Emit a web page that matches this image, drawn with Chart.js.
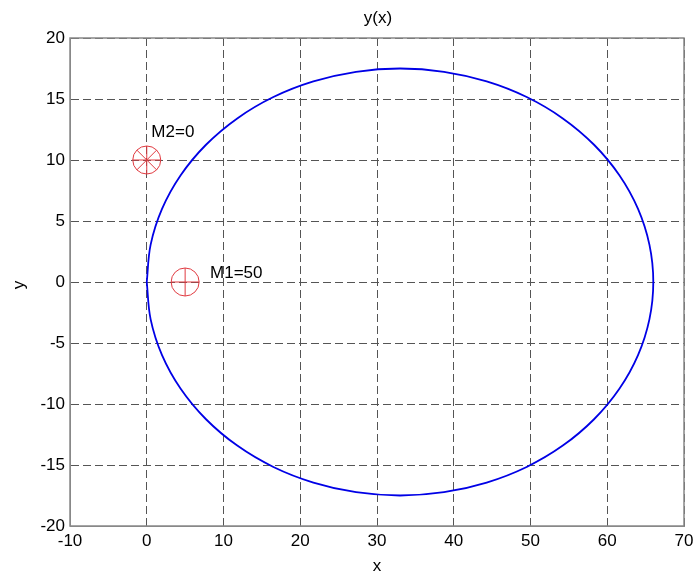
<!DOCTYPE html>
<html>
<head>
<meta charset="utf-8">
<title>y(x)</title>
<script src="https://cdn.jsdelivr.net/npm/chart.js@4/dist/chart.umd.min.js"></script>
<style>
 body { margin: 0; background: #fff; }
 #plot { display: block; }
</style>
</head>
<body>
<canvas id="plot" width="699" height="574"></canvas>
<script>
// trajectory
var curveX = [0, 0.50, 1.99, 4.42, 7.72, 11.79, 16.5, 21.71, 27.27, 33, 38.73, 44.29, 49.5, 54.21, 58.28, 61.58, 64.01, 65.5, 66,
              65.5, 64.01, 61.58, 58.28, 54.21, 49.5, 44.29, 38.73, 33, 27.27, 21.71, 16.5, 11.79, 7.72, 4.42, 1.99, 0.50, 0];
var curveY = [0, 3.04, 5.99, 8.75, 11.25, 13.41, 15.16, 16.44, 17.23, 17.5, 17.23, 16.44, 15.16, 13.41, 11.25, 8.75, 5.99, 3.04, 0,
              -3.04, -5.99, -8.75, -11.25, -13.41, -15.16, -16.44, -17.23, -17.5, -17.23, -16.44, -15.16, -13.41, -11.25, -8.75, -5.99, -3.04, 0];

var markerNames = ["M1=50", "M2=0"];
var markerX = [5, 0];
var markerY = [0, 10];
var labelX = [8.25, 0.6];
var labelY = [0.75, 12.3];

var xTicks = [-10, 0, 10, 20, 30, 40, 50, 60, 70];
var yTicks = [-20, -15, -10, -5, 0, 5, 10, 15, 20];

var FONT = "Arial, 'Liberation Sans', sans-serif";

var curvePts = [];
for (var i = 0; i < curveX.length; i++) {
 curvePts.push({x: curveX[i], y: curveY[i]});
}
var markPts = [];
for (var j = 0; j < markerX.length; j++) {
 markPts.push({x: markerX[j], y: markerY[j]});
}

var textPlugin = {
 id: "texts",
 afterDraw: function(chart) {
  var ctx = chart.ctx;
  var sx = chart.scales.x, sy = chart.scales.y;
  ctx.save();
  ctx.fillStyle = "#000";
  ctx.font = "17px " + FONT;
  ctx.textBaseline = "middle";
  ctx.textAlign = "left";
  for (var k = 0; k < markerNames.length; k++) {
   ctx.fillText(markerNames[k], sx.getPixelForValue(labelX[k]), sy.getPixelForValue(labelY[k]));
  }
  ctx.textAlign = "center";
  ctx.fillText("y(x)", 378, 18);
  ctx.fillText("x", 377, 566);
  ctx.translate(19, 285);
  ctx.rotate(-Math.PI / 2);
  ctx.fillText("y", 0, 0);
  ctx.restore();
 }
};

var chart = new Chart(document.getElementById("plot"), {
 type: "scatter",
 data: {
  datasets: [
   {
    data: curvePts,
    showLine: true,
    borderColor: "#0000e6",
    borderWidth: 1.8,
    pointRadius: 0,
    tension: 0.35,
    fill: false
   },
   {
    data: markPts,
    pointStyle: "circle",
    pointRadius: 14,
    pointBorderColor: "#e03a40",
    pointBackgroundColor: "rgba(0,0,0,0)",
    pointBorderWidth: 1
   },
   {
    data: markPts,
    pointStyle: "cross",
    pointRadius: 14,
    pointBorderColor: "#e03a40",
    pointBorderWidth: 1
   },
   {
    data: [markPts[1]],
    pointStyle: "crossRot",
    pointRadius: 14,
    pointBorderColor: "#e03a40",
    pointBorderWidth: 1
   }
  ]
 },
 options: {
  responsive: false,
  animation: false,
  layout: { padding: { top: 38, right: 11, left: 0, bottom: 0 } },
  plugins: { legend: { display: false }, tooltip: { enabled: false } },
  scales: {
   x: {
    type: "linear",
    min: -10, max: 70,
    afterFit: function(s) { s.height = 48; },
    afterBuildTicks: function(s) { s.ticks = xTicks.map(function(v) { return {value: v}; }); },
    ticks: { color: "#000", font: { size: 17, family: FONT }, padding: 5, maxRotation: 0 },
    grid: { color: "#555", drawTicks: false },
    border: { color: "#888", dash: [8, 4] }
   },
   y: {
    type: "linear",
    min: -20, max: 20,
    afterFit: function(s) { s.width = 70; },
    afterBuildTicks: function(s) { s.ticks = yTicks.map(function(v) { return {value: v}; }); },
    ticks: { color: "#000", font: { size: 17, family: FONT }, padding: 5 },
    grid: { color: "#555", drawTicks: false },
    border: { color: "#888", dash: [8, 4] }
   }
  }
 },
 plugins: [textPlugin, {
  id: "box",
  afterDraw: function(chart) {
   var a = chart.chartArea, ctx = chart.ctx;
   ctx.save();
   ctx.strokeStyle = "#888";
   ctx.lineWidth = 1.5;
   ctx.strokeRect(a.left, a.top, a.right - a.left, a.bottom - a.top);
   ctx.restore();
  }
 }]
});
</script>
</body>
</html>
